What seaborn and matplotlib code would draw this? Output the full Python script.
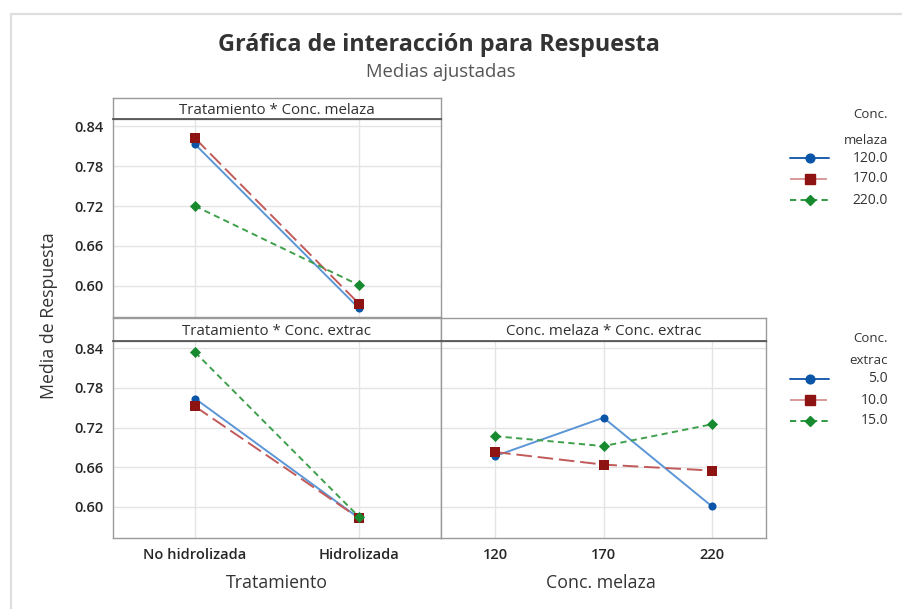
import numpy as np
import pandas as pd
import matplotlib
matplotlib.use("Agg")
import matplotlib.pyplot as plt
from matplotlib.lines import Line2D
import seaborn as sns

# ---------------- data ----------------
tratamiento = ["No hidrolizada", "Hidrolizada"]
melaza_levels = [120, 170, 220]
extrac_levels = [5, 10, 15]

# Tratamiento * Conc. melaza (one list per melaza level, over tratamiento)
tm_120 = [0.813, 0.566]
tm_170 = [0.822, 0.573]
tm_220 = [0.720, 0.601]

# Tratamiento * Conc. extrac (one list per extrac level, over tratamiento)
te_5 = [0.764, 0.583]
te_10 = [0.752, 0.583]
te_15 = [0.834, 0.585]

# Conc. melaza * Conc. extrac (one list per extrac level, over melaza)
me_5 = [0.677, 0.735, 0.601]
me_10 = [0.683, 0.664, 0.655]
me_15 = [0.707, 0.692, 0.725]

yticks = [0.60, 0.66, 0.72, 0.78, 0.84]

# ---------------- style ----------------
sns.set_theme(style="white")
plt.rcParams["font.family"] = ["Open Sans", "DejaVu Sans"]

line_cols = ["#5b96d6", "#c25a5a", "#3fa04c"]
mark_cols = ["#0a55a8", "#8e1414", "#178a30"]
leg_line_cols = ["#1f5fb0", "#d79a9a", "#2f9a40"]
markers = ["o", "s", "D"]
dashes = [(1, 0), (8, 3), (3.2, 2.2)]
msizes = [34, 44, 32]

W, H = 903, 609
fig = plt.figure(figsize=(W / 100, H / 100), dpi=100)


def fx(px):
    return px / W


def fy(py):
    return 1 - py / H


def make_df(x_labels, series, levels, name):
    rows = []
    for lev, vals in zip(levels, series):
        for i, (xl, v) in enumerate(zip(x_labels, vals)):
            rows.append({"xpos": i, "xlab": xl, name: lev, "y": v})
    return pd.DataFrame(rows)


def panel(rect, strip_rect, df, hue, levels, xticklabels, strip_text, show_y):
    ax = fig.add_axes(rect)
    pal_l = dict(zip(levels, line_cols))
    pal_m = dict(zip(levels, mark_cols))
    dsh = dict(zip(levels, dashes))
    mk = dict(zip(levels, markers))
    sns.lineplot(data=df, x="xpos", y="y", hue=hue, style=hue, palette=pal_l,
                 dashes=dsh, markers=False, linewidth=1.4, legend=False, ax=ax,
                 zorder=2)
    for lev, s in zip(levels, msizes):
        sub = df[df[hue] == lev]
        sns.scatterplot(data=sub, x="xpos", y="y", color=pal_m[lev],
                        marker=mk[lev], s=s, linewidth=0, legend=False, ax=ax,
                        zorder=3)
    n = len(xticklabels)
    ax.set_xlim(-0.5, n - 0.5)
    ax.set_ylim(0.553, 0.851)
    ax.set_xticks(range(n))
    ax.set_yticks(yticks)
    ax.grid(True, color="#e4e4e4", linewidth=1.0, zorder=0)
    ax.set_axisbelow(True)
    for sp in ax.spines.values():
        sp.set_color("#9a9a9a")
        sp.set_linewidth(1.0)
    ax.tick_params(axis="both", which="both", direction="out", length=4,
                   color="#9a9a9a", width=0.8, labelsize=10.5,
                   labelcolor="#262626", pad=3)
    ax.set_xlabel("")
    ax.set_ylabel("")
    ax.set_xticklabels(xticklabels, fontweight="semibold")
    if show_y:
        ax.set_yticklabels([f"{t:.2f}" for t in yticks], fontweight="semibold")
    else:
        ax.tick_params(axis="y", labelleft=False, length=0)
    # strip
    sax = fig.add_axes(strip_rect)
    sax.set_xticks([])
    sax.set_yticks([])
    sax.set_facecolor("white")
    for k, sp in sax.spines.items():
        sp.set_color("#9a9a9a")
        sp.set_linewidth(1.0)
    sax.spines["bottom"].set_color("#555555")
    sax.spines["bottom"].set_linewidth(1.3)
    sax.text(0.5, 0.42, strip_text, ha="center", va="center", fontsize=10.8,
             color="#303030", transform=sax.transAxes)
    return ax


# panel geometry in pixels
L1, R1 = 113, 441
L2, R2 = 441, 766
T_top, S_top, B_top = 98, 119, 317
T_bot, S_bot, B_bot = 318, 341, 538

df_tm = make_df(tratamiento, [tm_120, tm_170, tm_220], melaza_levels, "melaza")
df_te = make_df(tratamiento, [te_5, te_10, te_15], extrac_levels, "extrac")
df_me = make_df([str(m) for m in melaza_levels], [me_5, me_10, me_15],
                extrac_levels, "extrac")

ax1 = panel([fx(L1), fy(B_top), fx(R1 - L1), (B_top - S_top) / H],
            [fx(L1), fy(S_top), fx(R1 - L1), (S_top - T_top) / H],
            df_tm, "melaza", melaza_levels, tratamiento,
            "Tratamiento * Conc. melaza", True)
ax1.tick_params(axis="x", labelbottom=False, length=0)

ax2 = panel([fx(L1), fy(B_bot), fx(R1 - L1), (B_bot - S_bot) / H],
            [fx(L1), fy(S_bot), fx(R1 - L1), (S_bot - T_bot) / H],
            df_te, "extrac", extrac_levels, tratamiento,
            "Tratamiento * Conc. extrac", True)

ax3 = panel([fx(L2), fy(B_bot), fx(R2 - L2), (B_bot - S_bot) / H],
            [fx(L2), fy(S_bot), fx(R2 - L2), (S_bot - T_bot) / H],
            df_me, "extrac", extrac_levels, [str(m) for m in melaza_levels],
            "Conc. melaza * Conc. extrac", False)

# ---------------- titles and labels ----------------
fig.text(fx(439), fy(45), "Gráfica de interacción para Respuesta",
         ha="center", va="center", fontsize=16.8, fontweight="bold",
         color="#333333")
fig.text(fx(441), fy(72), "Medias ajustadas", ha="center", va="center",
         fontsize=13.3, color="#555555")
fig.text(fx(49), fy(316), "Media de Respuesta", rotation=90, ha="center",
         va="center", fontsize=12.8, color="#333333")
fig.text(fx(277), fy(583), "Tratamiento", ha="center", va="center",
         fontsize=12.8, color="#333333")
fig.text(fx(601), fy(583), "Conc. melaza", ha="center", va="center",
         fontsize=12.8, color="#333333")

# ---------------- legends ----------------
lax = fig.add_axes([0, 0, 1, 1], facecolor="none")
lax.set_xlim(0, W)
lax.set_ylim(H, 0)
lax.axis("off")


def draw_legend(title_lines, ys, labels, title_ys):
    for t, yy in zip(title_lines, title_ys):
        lax.text(888, yy, t, ha="right", va="center", fontsize=9.5,
                 color="#333333")
    for i, (yy, lab) in enumerate(zip(ys, labels)):
        lax.add_line(Line2D([790, 829], [yy, yy], color=leg_line_cols[i],
                            linewidth=1.4, dashes=dashes[i] if i else (None, None)))
        lax.plot([810], [yy], marker=markers[i], color=mark_cols[i],
                 markersize=[6.3, 6.5, 5.2][i], linestyle="none")
        lax.text(888, yy, lab, ha="right", va="center", fontsize=10,
                 color="#333333")


draw_legend(["Conc.", "melaza"], [158, 179, 200],
            [f"{m:.1f}" for m in melaza_levels], [115, 140])
draw_legend(["Conc.", "extrac"], [379, 400, 421],
            [f"{e:.1f}" for e in extrac_levels], [338, 361])

# outer light border
lax.add_line(Line2D([11, W], [14, 14], color="#dedede", linewidth=1.6))
lax.add_line(Line2D([11, 11], [14, H], color="#dedede", linewidth=1.6))

fig.savefig("out.png", dpi=100, facecolor="white")
